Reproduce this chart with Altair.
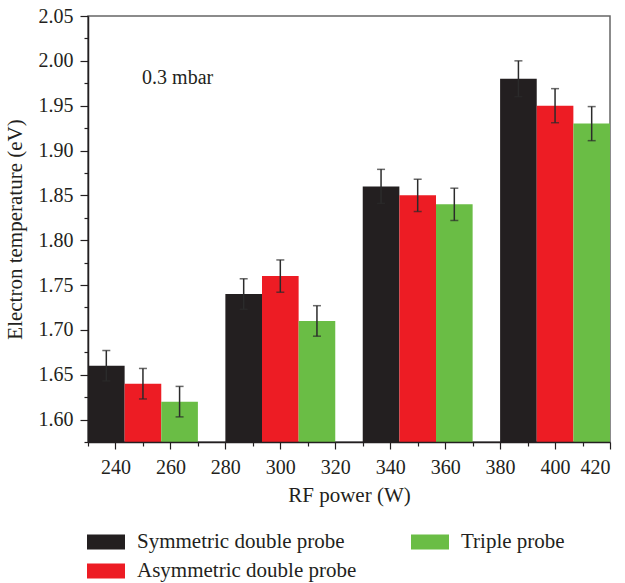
import altair as alt
import pandas as pd

# RF power settings (W) and measured electron temperatures (eV)
powers = [250, 300, 350, 400]
series = ["Symmetric double probe", "Asymmetric double probe", "Triple probe"]
sym_te = [1.66, 1.74, 1.86, 1.98]
asym_te = [1.64, 1.76, 1.85, 1.95]
triple_te = [1.62, 1.71, 1.84, 1.93]
sym_err = [0.017, 0.017, 0.019, 0.020]
asym_err = [0.017, 0.018, 0.018, 0.019]
triple_err = [0.017, 0.017, 0.018, 0.019]
colors = ["#231f20", "#ed1c24", "#6abd45"]

x_ticks = [240, 260, 280, 300, 320, 340, 360, 380, 400, 420]
x_minor = [230, 250, 270, 290, 310, 330, 350, 370, 390, 410]
y_ticks = [1.60, 1.65, 1.70, 1.75, 1.80, 1.85, 1.90, 1.95, 2.00, 2.05]
y_minor = [1.575, 1.625, 1.675, 1.725, 1.775, 1.825, 1.875, 1.925, 1.975, 2.025]

group_width = 40.0
bar_w = group_width / 3

rows = []
for k, (name, vals, errs) in enumerate(
    zip(series, [sym_te, asym_te, triple_te], [sym_err, asym_err, triple_err])
):
    for p, v, e in zip(powers, vals, errs):
        x0 = p - group_width / 2 + k * bar_w
        rows.append(
            dict(series=name, power=p, te=v, lo=v - e, hi=v + e,
                 x0=x0, x1=x0 + bar_w, xc=x0 + bar_w / 2)
        )
df = pd.DataFrame(rows)

FONT = "Liberation Serif"
INK = "#231f20"
x_scale = alt.Scale(domain=[230, 420], nice=False, zero=False)
y_scale = alt.Scale(domain=[1.575, 2.05], nice=False, zero=False)

base = alt.Chart(df)

bars = base.mark_rect().encode(
    x=alt.X("x0:Q", scale=x_scale,
            axis=alt.Axis(values=x_ticks, title="RF power (W)", orient="bottom",
                          tickSize=7, labelPadding=8, titlePadding=7, zindex=1)),
    x2="x1:Q",
    y=alt.Y("te:Q", scale=y_scale,
            axis=alt.Axis(values=y_ticks, format=".2f",
                          title="Electron temperature (eV)", orient="left",
                          tickSize=8, labelPadding=7, titlePadding=13, zindex=1)),
    y2=alt.datum(1.575),
    color=alt.Color(
        "series:N",
        scale=alt.Scale(domain=series, range=colors),
        legend=alt.Legend(
            title=None, orient="none", legendX=-1, legendY=507, columns=2,
            direction="vertical",
            symbolType="M-1,-0.395L1,-0.395L1,0.395L-1,0.395Z", symbolSize=1444,
            symbolStrokeWidth=0, symbolOpacity=1, labelFont=FONT,
            labelFontSize=21, labelColor=INK, labelOffset=12,
            labelLimit=400, columnPadding=54, rowPadding=0,
        ),
    ),
)

# minor ticks on both axes
minor_x = base.mark_point(opacity=0).encode(
    x=alt.X("xc:Q", scale=x_scale,
            axis=alt.Axis(values=x_minor, labels=False, title=None, orient="bottom",
                          tickSize=4, domain=False, zindex=1)),
)
minor_y = base.mark_point(opacity=0).encode(
    y=alt.Y("te:Q", scale=y_scale,
            axis=alt.Axis(values=y_minor, labels=False, title=None, orient="left",
                          tickSize=4, domain=False, zindex=1)),
)

err_color = "#2b2b2b"
err_rule = base.mark_rule(color=err_color, strokeWidth=1.5).encode(
    x=alt.X("xc:Q", scale=x_scale, axis=None),
    y=alt.Y("lo:Q", scale=y_scale, axis=None),
    y2="hi:Q",
)
cap_lo = base.mark_tick(color=err_color, orient="horizontal", size=8, thickness=1.5).encode(
    x=alt.X("xc:Q", scale=x_scale, axis=None),
    y=alt.Y("lo:Q", scale=y_scale, axis=None),
)
cap_hi = base.mark_tick(color=err_color, orient="horizontal", size=8, thickness=1.5).encode(
    x=alt.X("xc:Q", scale=x_scale, axis=None),
    y=alt.Y("hi:Q", scale=y_scale, axis=None),
)

label = alt.Chart(pd.DataFrame({"x": [249.7], "y": [1.981], "t": ["0.3 mbar"]})).mark_text(
    font=FONT, fontSize=20, align="left", baseline="middle", color=INK
).encode(
    x=alt.X("x:Q", scale=x_scale, axis=None),
    y=alt.Y("y:Q", scale=y_scale, axis=None),
    text="t:N",
)

chart = (
    alt.layer(bars, err_rule, cap_lo, cap_hi, label, minor_x, minor_y)
    .resolve_axis(x="independent", y="independent")
    .properties(
        width=522, height=426,
        autosize=alt.AutoSizeParams(type="none"),
        padding={"left": 88, "top": 16, "right": 15, "bottom": 141},
        background="white",
    )
    .configure_view(stroke="#666", strokeWidth=1.5)
    .configure_axis(
        labelFont=FONT, titleFont=FONT, labelFontSize=20, titleFontSize=21,
        labelColor=INK, titleColor=INK, titleFontWeight="normal",
        domainColor=INK, tickColor=INK, domainWidth=1.5, tickWidth=1.2,
        grid=False,
    )
)

chart.save("out.html", embed_options={"renderer": "svg", "actions": False})
